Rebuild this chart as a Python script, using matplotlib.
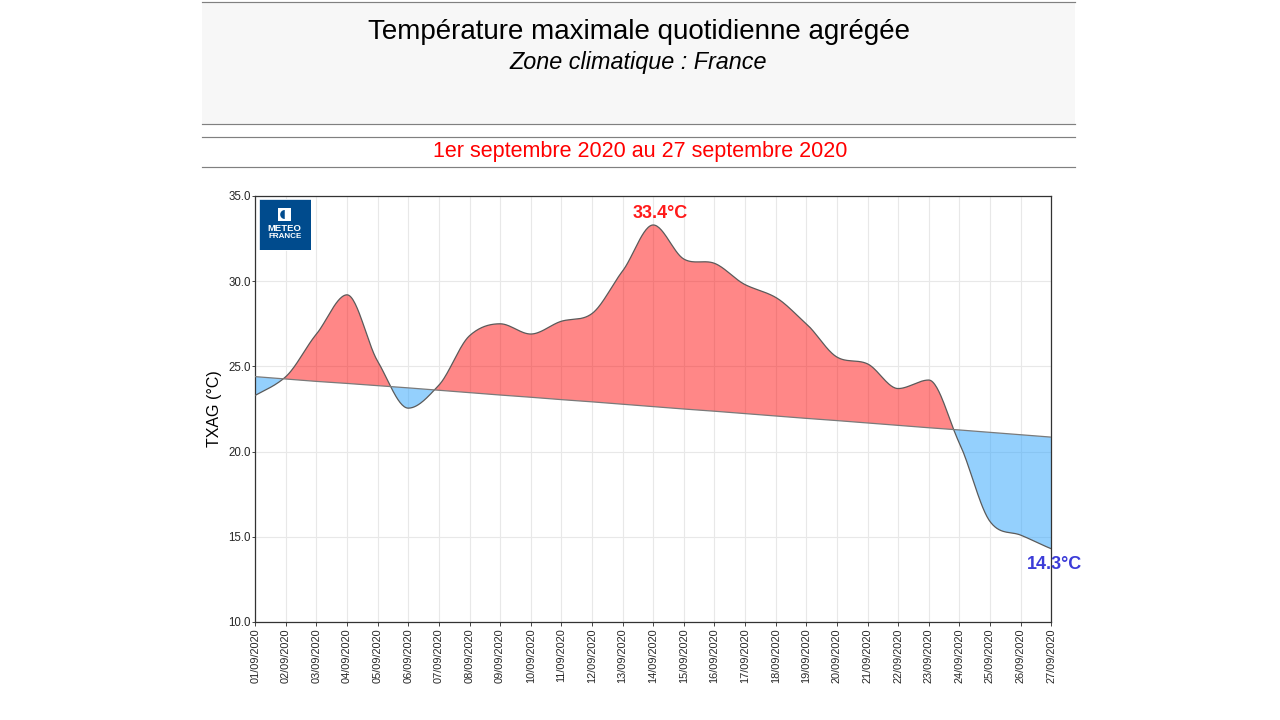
import numpy as np
import matplotlib
matplotlib.use("Agg")
import matplotlib.pyplot as plt
from matplotlib.patches import Rectangle, Wedge

plt.rcParams['font.family'] = ['Liberation Sans', 'DejaVu Sans']

dates = ["%02d/09/2020" % d for d in range(1, 28)]
txag = [23.3, 24.4, 26.9, 29.2, 25.3, 22.55, 23.9, 26.8, 27.5, 26.9, 27.65, 28.1, 30.6, 33.3,
        31.3, 31.05, 29.8, 29.05, 27.5, 25.55, 25.15, 23.7, 24.2, 20.5, 15.9, 15.1, 14.3]
normal = [24.4, 24.26, 24.12, 24.0, 23.87, 23.74, 23.6, 23.46, 23.32, 23.19, 23.05, 22.92, 22.78, 22.64,
          22.5, 22.37, 22.23, 22.09, 21.95, 21.82, 21.68, 21.54, 21.4, 21.27, 21.13, 20.99, 20.85]
yticks = [10, 15, 20, 25, 30, 35]
title = "Température maximale quotidienne agrégée"
subtitle = "Zone climatique : France"
period = "1er septembre 2020 au 27 septembre 2020"
max_label = "33.4°C"
min_label = "14.3°C"
ylabel = "TXAG (°C)"

W, H = 1280, 720


def smooth(y, n=30):
    """Hermite rendering of a daily series, flat at its local extremes."""
    y = np.asarray(y, float)
    m = np.gradient(y) * 0.9
    d = np.diff(y)
    m[1:-1][d[:-1] * d[1:] < 0] = 0
    xs, ys = [], []
    for i in range(len(y) - 1):
        t = np.linspace(0, 1, n, endpoint=False)
        h00 = 2*t**3 - 3*t**2 + 1
        h10 = t**3 - 2*t**2 + t
        h01 = -2*t**3 + 3*t**2
        h11 = t**3 - t**2
        xs.append(i + t)
        ys.append(h00*y[i] + h10*m[i] + h01*y[i+1] + h11*m[i+1])
    return np.r_[np.concatenate(xs), len(y) - 1], np.r_[np.concatenate(ys), y[-1]]


fig = plt.figure(figsize=(W / 100, H / 100), dpi=100)

# Header band and rules
fig.add_artist(Rectangle((202 / W, 1 - 124 / H), 872.5 / W, 122 / H, transform=fig.transFigure,
                         fc="#f7f7f7", ec="none"))
for yp in (2, 124.3, 137.3, 167):
    fig.add_artist(plt.Line2D([202 / W, 1074.5 / W], [1 - yp / H] * 2, transform=fig.transFigure,
                              color="#808080", lw=0.85))
fig.text(638.5 / W, 1 - 32 / H, title, ha="center", va="center", fontsize=19.95, color="black")
fig.text(638.5 / W, 1 - 63 / H, subtitle, ha="center", va="center", fontsize=16.85, style="italic", color="black")
fig.text(640 / W, 1 - 152 / H, period, ha="center", va="center", fontsize=15.5, color="#ff0000")

ax = fig.add_axes([255.2 / W, 1 - 622 / H, 796 / W, 426 / H])
x = np.arange(len(dates))
sx, sy = smooth(txag)
sn = np.interp(sx, x, normal)

ax.set_axisbelow(True)
ax.grid(True, color="#e8e8e8", lw=0.8)
ax.fill_between(sx, sy, sn, where=sy >= sn, interpolate=True, color="#ff0000", alpha=0.47, lw=0, zorder=2)
ax.fill_between(sx, sy, sn, where=sy <= sn, interpolate=True, color="#2ba3fd", alpha=0.5, lw=0, zorder=2)
ax.plot(sx, sy, color="#5a5a5a", lw=0.9, zorder=3)
ax.plot(x, normal, color="#7a7a7a", lw=0.9, zorder=3)

ax.set_xlim(0, len(dates) - 1)
ax.set_ylim(10, 35)
ax.set_xticks(x)
ax.set_xticklabels(dates, rotation=90, fontsize=7.95, color="#262626")
ax.set_yticks(yticks)
ax.set_yticklabels(["%.1f" % v for v in yticks], fontsize=8.3, color="#262626")
ax.tick_params(length=3, width=0.7, color="#444444", pad=1.5)
ax.tick_params(axis="y", pad=0.5, length=2.5)
for s in ax.spines.values():
    s.set_color("#333333")
    s.set_linewidth(0.9)
ax.set_ylabel(ylabel, fontsize=11.5, color="black", labelpad=4.5)

ax.annotate(max_label, xy=(x[13], 33.3), xytext=(5, 8.5), textcoords="offset points", ha="center", va="center",
            fontsize=13, fontweight="bold", color="#ff1a1a", annotation_clip=False)
ax.annotate(min_label, xy=(x[26], 14.3), xytext=(2.5, -11), textcoords="offset points", ha="center", va="center",
            fontsize=13, fontweight="bold", color="#3c3cd8", annotation_clip=False)

# Logo
logo = fig.add_axes([259 / W, 1 - 249.5 / H, 51.5 / W, 51 / H], zorder=5)
logo.set_xlim(0, 51)
logo.set_ylim(51, 0)
logo.set_xticks([])
logo.set_yticks([])
logo.set_facecolor("#004b8d")
for s in logo.spines.values():
    s.set_color("#ffffff")
    s.set_linewidth(0.6)
logo.add_patch(Rectangle((19, 9.5), 13, 13, fc="white", ec="none"))
logo.add_patch(Wedge((25.5, 16), 4.5, 90, 270, fc="#004b8d", ec="none"))
logo.text(25.5, 30, "METEO", color="white", fontsize=6.8, fontweight="bold", ha="center", va="center")
logo.text(25.5, 38.5, "FRANCE", color="white", fontsize=5.8, fontweight="bold", ha="center", va="center")

fig.savefig("out.png", dpi=100, facecolor="white")
